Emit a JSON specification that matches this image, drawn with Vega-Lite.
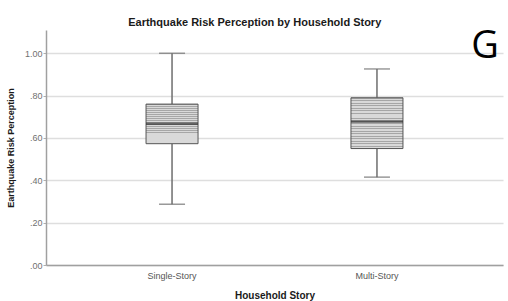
{
  "$schema": "https://vega.github.io/schema/vega-lite/v6.json",
  "width": 457,
  "height": 235,
  "autosize": {"type": "none"},
  "padding": {"left": 46, "top": 30, "right": 5, "bottom": 36},
  "background": "white",
  "title": {
    "text": "Earthquake Risk Perception by Household Story",
    "font": "Liberation Sans",
    "fontSize": 11,
    "fontWeight": "bold",
    "color": "#1a1a1a",
    "anchor": "middle",
    "frame": "bounds",
    "offset": 0
  },
  "config": {
    "view": {"stroke": null},
    "font": "Liberation Sans"
  },
  "data": {
    "values": [
      {"story": "Single-Story", "min": 0.287, "q1": 0.573, "median": 0.667, "q3": 0.76, "max": 1.0},
      {"story": "Multi-Story", "min": 0.415, "q1": 0.55, "median": 0.678, "q3": 0.79, "max": 0.926}
    ]
  },
  "encoding": {
    "x": {
      "field": "story",
      "type": "nominal",
      "sort": ["Single-Story", "Multi-Story"],
      "scale": {"paddingInner": 0, "paddingOuter": 0.115},
      "axis": {
        "title": "Household Story",
        "titleFont": "Liberation Sans",
        "titleFontSize": 10,
        "titleFontWeight": "bold",
        "titleColor": "#1a1a1a",
        "titlePadding": 10,
        "labelAngle": 0,
        "labelFont": "Liberation Sans",
        "labelFontSize": 9,
        "labelColor": "#555555",
        "labelPadding": 6,
        "ticks": false,
        "domainColor": "#a0a0a0",
        "domainWidth": 1.5
      }
    }
  },
  "layer": [
    {
      "mark": {"type": "rule", "color": "#6e6e6e", "strokeWidth": 1.5},
      "encoding": {
        "y": {
          "field": "min",
          "type": "quantitative",
          "scale": {"domain": [0, 1.11], "nice": false},
          "axis": {
            "title": "Earthquake Risk Perception",
            "titleFont": "Liberation Sans",
            "titleFontSize": 9,
            "titleFontWeight": "bold",
            "titleColor": "#1a1a1a",
            "titlePadding": 9,
            "values": [0, 0.2, 0.4, 0.6, 0.8, 1.0],
            "labelExpr": "replace(format(datum.value, '.2f'), '0.', '.')",
            "labelFont": "Liberation Sans",
            "labelFontSize": 9,
            "labelColor": "#707070",
            "labelPadding": 1,
            "tickSize": 3,
            "tickColor": "#b0b0b0",
            "grid": true,
            "gridColor": "#dedede",
            "gridWidth": 1.5,
            "domainColor": "#a0a0a0",
            "domainWidth": 1.5
          }
        },
        "y2": {"field": "q1"}
      }
    },
    {
      "mark": {"type": "rule", "color": "#6e6e6e", "strokeWidth": 1.5},
      "encoding": {
        "y": {"field": "q3", "type": "quantitative"},
        "y2": {"field": "max"}
      }
    },
    {
      "mark": {"type": "tick", "color": "#6e6e6e", "size": 26, "thickness": 1.5, "orient": "horizontal"},
      "encoding": {"y": {"field": "min", "type": "quantitative"}}
    },
    {
      "mark": {"type": "tick", "color": "#6e6e6e", "size": 26, "thickness": 1.5, "orient": "horizontal"},
      "encoding": {"y": {"field": "max", "type": "quantitative"}}
    },
    {
      "mark": {
        "type": "bar",
        "size": 52,
        "stroke": "#555555",
        "strokeWidth": 1,
        "fill": {
          "gradient": "linear",
          "x1": 0, "y1": 0, "x2": 0, "y2": 1,
          "stops": [
            {"offset": 0, "color": "#a6a6a6"}, {"offset": 0.0175, "color": "#a6a6a6"}, {"offset": 0.0175, "color": "#d9d9d9"}, {"offset": 0.05, "color": "#d9d9d9"},
            {"offset": 0.05, "color": "#a6a6a6"}, {"offset": 0.0675, "color": "#a6a6a6"}, {"offset": 0.0675, "color": "#d9d9d9"}, {"offset": 0.1, "color": "#d9d9d9"},
            {"offset": 0.1, "color": "#a6a6a6"}, {"offset": 0.1175, "color": "#a6a6a6"}, {"offset": 0.1175, "color": "#d9d9d9"}, {"offset": 0.15, "color": "#d9d9d9"},
            {"offset": 0.15, "color": "#a6a6a6"}, {"offset": 0.1675, "color": "#a6a6a6"}, {"offset": 0.1675, "color": "#d9d9d9"}, {"offset": 0.2, "color": "#d9d9d9"},
            {"offset": 0.2, "color": "#a6a6a6"}, {"offset": 0.2175, "color": "#a6a6a6"}, {"offset": 0.2175, "color": "#d9d9d9"}, {"offset": 0.25, "color": "#d9d9d9"},
            {"offset": 0.25, "color": "#a6a6a6"}, {"offset": 0.2675, "color": "#a6a6a6"}, {"offset": 0.2675, "color": "#d9d9d9"}, {"offset": 0.3, "color": "#d9d9d9"},
            {"offset": 0.3, "color": "#a6a6a6"}, {"offset": 0.3175, "color": "#a6a6a6"}, {"offset": 0.3175, "color": "#d9d9d9"}, {"offset": 0.35, "color": "#d9d9d9"},
            {"offset": 0.35, "color": "#a6a6a6"}, {"offset": 0.3675, "color": "#a6a6a6"}, {"offset": 0.3675, "color": "#d9d9d9"}, {"offset": 0.4, "color": "#d9d9d9"},
            {"offset": 0.4, "color": "#a6a6a6"}, {"offset": 0.4175, "color": "#a6a6a6"}, {"offset": 0.4175, "color": "#d9d9d9"}, {"offset": 0.45, "color": "#d9d9d9"},
            {"offset": 0.45, "color": "#a6a6a6"}, {"offset": 0.4675, "color": "#a6a6a6"}, {"offset": 0.4675, "color": "#d9d9d9"}, {"offset": 0.5, "color": "#d9d9d9"},
            {"offset": 0.5, "color": "#a6a6a6"}, {"offset": 0.5175, "color": "#a6a6a6"}, {"offset": 0.5175, "color": "#d9d9d9"}, {"offset": 0.55, "color": "#d9d9d9"},
            {"offset": 0.55, "color": "#a6a6a6"}, {"offset": 0.5675, "color": "#a6a6a6"}, {"offset": 0.5675, "color": "#d9d9d9"}, {"offset": 0.6, "color": "#d9d9d9"},
            {"offset": 0.6, "color": "#a6a6a6"}, {"offset": 0.6175, "color": "#a6a6a6"}, {"offset": 0.6175, "color": "#d9d9d9"}, {"offset": 0.65, "color": "#d9d9d9"},
            {"offset": 0.65, "color": "#a6a6a6"}, {"offset": 0.6675, "color": "#a6a6a6"}, {"offset": 0.6675, "color": "#d9d9d9"}, {"offset": 0.7, "color": "#d9d9d9"},
            {"offset": 0.7, "color": "#a6a6a6"}, {"offset": 0.7175, "color": "#a6a6a6"}, {"offset": 0.7175, "color": "#d9d9d9"}, {"offset": 0.75, "color": "#d9d9d9"},
            {"offset": 0.75, "color": "#a6a6a6"}, {"offset": 0.7675, "color": "#a6a6a6"}, {"offset": 0.7675, "color": "#d9d9d9"}, {"offset": 0.8, "color": "#d9d9d9"},
            {"offset": 0.8, "color": "#a6a6a6"}, {"offset": 0.8175, "color": "#a6a6a6"}, {"offset": 0.8175, "color": "#d9d9d9"}, {"offset": 0.85, "color": "#d9d9d9"},
            {"offset": 0.85, "color": "#a6a6a6"}, {"offset": 0.8675, "color": "#a6a6a6"}, {"offset": 0.8675, "color": "#d9d9d9"}, {"offset": 0.9, "color": "#d9d9d9"},
            {"offset": 0.9, "color": "#a6a6a6"}, {"offset": 0.9175, "color": "#a6a6a6"}, {"offset": 0.9175, "color": "#d9d9d9"}, {"offset": 0.95, "color": "#d9d9d9"},
            {"offset": 0.95, "color": "#a6a6a6"}, {"offset": 0.9675, "color": "#a6a6a6"}, {"offset": 0.9675, "color": "#d9d9d9"}, {"offset": 1, "color": "#d9d9d9"}
          ]
        }
      },
      "encoding": {
        "y": {"field": "q1", "type": "quantitative"},
        "y2": {"field": "q3"}
      }
    },
    {
      "mark": {"type": "tick", "color": "#333333", "size": 52, "thickness": 2.5, "orient": "horizontal"},
      "encoding": {"y": {"field": "median", "type": "quantitative"}}
    },
    {
      "data": {"values": [{"label": "G"}]},
      "mark": {
        "type": "text",
        "font": "Open Sans",
        "fontSize": 38,
        "color": "#000000",
        "align": "right",
        "baseline": "alphabetic",
        "x": {"expr": "width - 4"}
      },
      "encoding": {
        "x": null,
        "text": {"field": "label"},
        "y": {"datum": 0.98, "type": "quantitative"}
      }
    }
  ]
}
